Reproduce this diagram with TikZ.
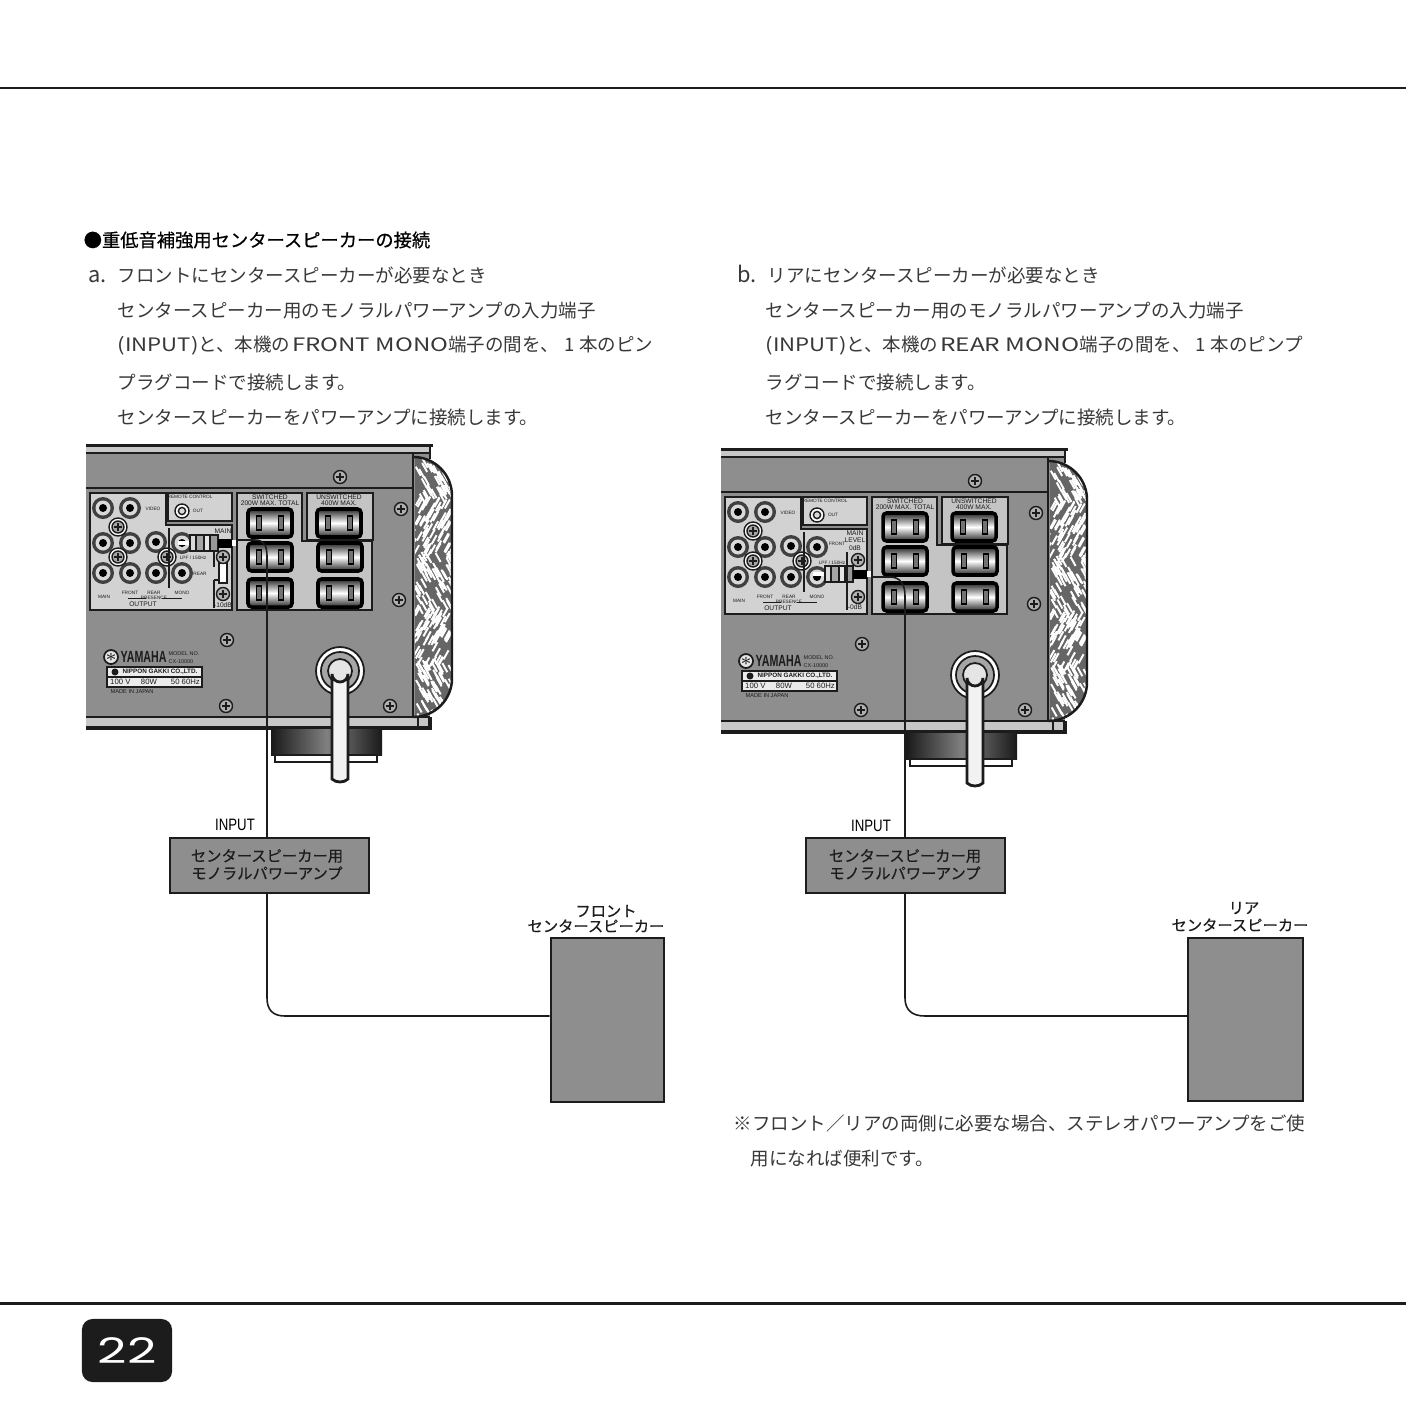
\documentclass[tikz,border=0pt]{standalone}
\usepackage{amsmath,amssymb}
\usepackage{fontspec}
\usepackage{xcolor}
\usetikzlibrary{shapes,arrows.meta,positioning,calc}
\setmainfont{Liberation Sans}
\newfontfamily\jpfont{Noto Sans CJK JP}
\newfontfamily\jpmedium{Noto Sans CJK JP}[FakeBold=0.5]
\newfontfamily\wideface{Poppins}
\definecolor{panelgray}{HTML}{8E8E8E}
\definecolor{jackgray}{HTML}{D2D2D2}
\definecolor{plugblock}{HTML}{C4C4C4}
\definecolor{inkdark}{HTML}{1C1C1C}
\tikzset{
  lead/.style={anchor=west,inner sep=0pt,text=black!78,font=\jpfont\fontsize{5.26}{6}\selectfont},
  headline/.style={anchor=west,inner sep=0pt,text=black,font=\jpmedium\fontsize{5.2}{6}\selectfont},
  unitbox/.style={draw=inkdark,line width=0.7pt,fill=panelgray,inner sep=0pt},
  unittext/.style={inner sep=0pt,text=inkdark,font=\jpmedium\fontsize{4.35}{5}\selectfont},
  blacklabel/.style={inner sep=0pt,text=black,font=\fontsize{4.7}{5}\selectfont},
  tiny/.style={inner sep=0pt,text=inkdark,font=\fontsize{1.35}{1.6}\selectfont},
  small/.style={inner sep=0pt,text=inkdark,font=\fontsize{1.9}{2.2}\selectfont},
  wire/.style={draw=inkdark,line width=0.45pt},
  rule/.style={draw=inkdark,line width=0.7pt},
  pics/jack/.style={code={
    \fill[black!75] (0,0) circle (11);
    \fill[white!85!black] (0,0) circle (7.5);
    \fill[black] (0,0) circle (4);
  }},
  pics/screw/.style={code={
    \draw[inkdark,line width=0.4pt,fill=panelgray!70] (0,0) circle (6.5);
    \draw[inkdark,line width=0.5pt] (-4,0) -- (4,0) (0,-4) -- (0,4);
  }},
  pics/ringscrew/.style={code={
    \draw[inkdark,line width=0.4pt,fill=white] (0,0) circle (9);
    \draw[inkdark,line width=0.4pt,fill=black!35] (0,0) circle (6);
    \draw[inkdark,line width=0.5pt] (-4,0) -- (4,0) (0,-4) -- (0,4);
  }},
  pics/outlet/.style={code={
    \draw[black,line width=1pt,rounded corners=1pt,top color=black!85,bottom color=black!85,middle color=white] (-22,-14) rectangle (22,14);
    \foreach \sx in {-11,11} {
      \draw[black,line width=0.4pt,fill=black!55] (\sx-2.5,-7) rectangle (\sx+2.5,7);
    }
  }},
}
% the amplifier rear panel, drawn at the position of reference a
\newcommand{\rearpanel}{
  \fill[panelgray] (86,447) rectangle (430,728);
  \fill[black!22] (86,447) rectangle (430,453);
  \draw[line width=0.8pt,inkdark] (86,445.5) -- (433,445.5);
  \draw[line width=0.55pt,inkdark] (86,453) -- (430,453);
  \draw[rule] (86,488) -- (413,488) (413,453) -- (413,717);
  \draw[line width=0.55pt,inkdark] (86,717) -- (430,717);
  \fill[black!22] (86,718) rectangle (430,727);
  \draw[line width=1pt,inkdark] (86,728) -- (430,728) -- (430,717);
  \draw[rule] (430,446) -- (430,459);
  \draw[rule] (418,717) -- (418,728);
  % wood side
  \begin{scope}
    \clip (415,457) [rounded corners=11pt] -- (452,457) -- (452,717) [sharp corners] -- (415,717) -- cycle;
    \fill[black!60] (410,450) rectangle (455,720);
    \pgfmathsetseed{4217}
    \foreach \i in {1,...,300} {
      \pgfmathsetmacro{\wx}{415+37*rnd}
      \pgfmathsetmacro{\wy}{457+260*rnd}
      \pgfmathsetmacro{\wd}{mod(floor(\wy/55),2)==0 ? 5 : -5}
      \draw[white,line width=0.55pt] (\wx,\wy) -- ++(\wd,9);
    }
  \end{scope}
  \draw[inkdark,line width=0.7pt] (415,457) [rounded corners=11pt] -- (452,457) -- (452,717) [sharp corners] -- (415,717);
  % jack field
  \draw[rule,fill=jackgray] (90,493) -- (166,493) -- (166,525) -- (232,525) -- (232,610) -- (90,610) -- cycle;
  \draw[rule,fill=jackgray] (168,493) rectangle (232,521);
  \foreach \jx/\jy in {103/508,130/508,103/543,130/543,156/542,182/543,103/573,130/573,156/573,182/573} {
    \pic at (\jx,\jy) {jack};
  }
  \foreach \sx/\sy in {118/527,118/557,167/557} {
    \pic at (\sx,\sy) {ringscrew};
  }
  \draw[rule] (169,528) -- (169,588);
  \draw[inkdark,line width=0.4pt,fill=white] (182,511) circle (7);
  \draw[inkdark,line width=0.4pt,fill=black!15] (182,511) circle (3.6);
  \node[tiny] (remotetext) at (190,497) {REMOTE CONTROL};
  \node[tiny] (outtext) at (198,511) {OUT};
  \node[tiny] (videotext) at (153,509) {VIDEO};
  \node[tiny] (maintext) at (104,597) {MAIN};
  \node[tiny] (fronttext) at (130,593) {FRONT};
  \node[tiny] (reartext) at (154,593) {REAR};
  \node[tiny] (monotext) at (182,593) {MONO};
  \node[tiny] (presencetext) at (154,598) {PRESENCE};
  \draw[inkdark,line width=0.25pt] (128,598) -- (146,598) (162,598) -- (182,598);
  \node[small] (outputtext) at (143,604) {OUTPUT};
  % outlet field
  \draw[rule,fill=plugblock] (237,493) -- (302,493) -- (302,541) -- (372,541) -- (372,610) -- (237,610) -- cycle;
  \draw[rule,fill=plugblock] (307,493) rectangle (373,540);
  \node[small] (switchedtext) at (270,497) {SWITCHED};
  \node[small] (wattsa) at (270,503.5) {200W MAX. TOTAL};
  \node[small] (unswitchedtext) at (339,497) {UNSWITCHED};
  \node[small] (wattsb) at (339,503.5) {400W MAX.};
  \foreach \ox/\oy in {270/523,339/523,270/557,340/557,270/593,340/593} {
    \pic at (\ox,\oy) {outlet};
  }
  % screws
  \foreach \sx/\sy in {340/477,401/509,399/600,227/640,226/706,390/706} {
    \pic at (\sx,\sy) {screw};
  }
  % nameplate
  \draw[inkdark,line width=0.5pt,fill=jackgray!60] (111,657) circle (7);
  \node[inkdark,inner sep=0pt,font=\fontsize{3}{3}\selectfont] (logostar) at (111,657) {$\ast$};
  \node[inner sep=0pt,text=inkdark,anchor=west,font=\bfseries\fontsize{4.6}{5}\selectfont] (logotext) at (120,657) {\scalebox{0.66}[1]{YAMAHA}};
  \node[small,anchor=west,font=\fontsize{1.55}{1.8}\selectfont] (modeltext) at (168,654) {MODEL NO.};
  \node[small,anchor=west,font=\fontsize{1.55}{1.8}\selectfont] (modelnum) at (168,662) {CX-10000};
  \draw[inkdark,line width=0.5pt,fill=jackgray!45] (107,667) rectangle (202,687);
  \draw[inkdark,line width=0.4pt] (107,677) -- (202,677);
  \fill[inkdark] (115,672) circle (3.5);
  \node[inner sep=0pt,text=inkdark,font=\bfseries\fontsize{1.8}{2}\selectfont] (makertext) at (160,672) {NIPPON GAKKI CO.,LTD.};
  \node[inner sep=0pt,text=inkdark,font=\fontsize{2.2}{2.4}\selectfont] (ratingtext) at (155,682) {100 V\hspace{3pt}80W\hspace{4pt}50 60Hz};
  \node[tiny,anchor=west,font=\fontsize{1.6}{2}\selectfont] (madetext) at (110,692) {MADE IN JAPAN};
  % foot and power cord
  \fill[left color=black!90,right color=black!90,middle color=black!50] (271,729) rectangle (382,755);
  \draw[inkdark,line width=0.7pt,fill=white] (275,755) rectangle (377,762);
  \draw[inkdark,line width=0.5pt,fill=white] (340,671) circle (24);
  \draw[inkdark,line width=0.5pt,fill=black!35] (340,671) circle (19);
  \draw[inkdark,line width=0.5pt,fill=black!10] (340,671) circle (12);
  \draw[inkdark,line width=0.8pt,fill=white!95!black] (332,779) -- (332,674) arc (180:0:8) -- (348,779) .. controls (344,783) and (336,783) .. (332,779) -- cycle;
}
% pin plug lying on a jack, the jack centre being the first argument
\newcommand{\pinplug}[1]{
  \begin{scope}[shift={(#1)}]
    \draw[white,line width=1.4pt] (-4,0) -- (8,0);
    \draw[inkdark,line width=0.4pt,fill=black!15] (8,-8) rectangle (14,8);
    \draw[inkdark,line width=0.4pt,fill=black!35] (14,-8) rectangle (22,8);
    \draw[inkdark,line width=0.4pt,fill=black!10] (22,-8) rectangle (28,8);
    \draw[inkdark,line width=0.4pt,fill=black!40] (28,-8) rectangle (36,8);
    \fill[black] (36,-4) rectangle (50,5);
    \fill[white] (50,-3) rectangle (54,3);
  \end{scope}
}

\begin{document}
\begin{tikzpicture}[x=0.01cm,y=-0.01cm]
\useasboundingbox (0,0) rectangle (1406,1406);
\fill[white] (0,0) rectangle (1406,1406);
% page rules
\draw[inkdark,line width=0.85pt] (0,88) -- (1406,88);
\draw[inkdark,line width=0.85pt] (0,1303) -- (1406,1303);
\node[fill=inkdark,rounded corners=3pt,minimum width=0.9cm,minimum height=0.63cm,inner sep=0pt,text=white,font=\wideface\fontsize{10}{10}\selectfont] (pagebox) at (127,1350.5) {\scalebox{1.45}[1]{22}};
% text
\node[headline] (headtext) at (83,240) {●重低音補強用センタースピーカーの接続};
\node[lead] (aone) at (88,275) {\fontsize{6.2}{6}\selectfont a.\hspace{3pt}\fontsize{5.26}{6}\selectfont フロントにセンタースピーカーが必要なとき};
\node[lead] (atwo) at (117,311) {センタースピーカー用のモノラルパワーアンプの入力端子};
\node[lead] (athree) at (117,346) {\scalebox{1.2}[1]{(INPUT)}と、本機の\hspace{0.5pt}\scalebox{1.3}[1]{FRONT MONO}端子の間を、\makebox[5.7pt]{1}本のピン};
\node[lead] (afour) at (117,382) {プラグコードで接続します。};
\node[lead] (afive) at (117,417) {センタースピーカーをパワーアンプに接続します。};
\node[lead] (bone) at (737,275) {\fontsize{6.2}{6}\selectfont b.\hspace{3pt}\fontsize{5.26}{6}\selectfont リアにセンタースピーカーが必要なとき};
\node[lead] (btwo) at (765,311) {センタースピーカー用のモノラルパワーアンプの入力端子};
\node[lead] (bthree) at (765,346) {\scalebox{1.2}[1]{(INPUT)}と、本機の\hspace{0.5pt}\scalebox{1.32}[1]{REAR MONO}端子の間を、\makebox[5.7pt]{1}本のピンプ};
\node[lead] (bfour) at (765,382) {ラグコードで接続します。};
\node[lead] (bfive) at (765,417) {センタースピーカーをパワーアンプに接続します。};
\node[lead] (noteone) at (733,1123) {※フロント／リアの両側に必要な場合、ステレオパワーアンプをご使};
\node[lead] (notetwo) at (750,1159) {用になれば便利です。};
% panel a
\rearpanel
\pinplug{182,543}
\node[small] (mainmark) at (223,531) {MAIN};
\node[tiny] (lpfa) at (193,558) {LPF / 150Hz};
\node[tiny] (reara) at (200,574) {REAR};
\node[small] (dba) at (223,605) {-10dB};
\draw[rule] (214,550) -- (214,567) (214,580) -- (214,608) (214,580) -- (223,580);
\draw[inkdark,line width=0.5pt,fill=white] (219,563) rectangle (227,583);
\pic at (223,557) {screw};
\pic at (223,594) {screw};
\coordinate (plugend) at (236,540);
\node[unitbox,minimum width=1.99cm,minimum height=0.55cm] (ampa) at (269.5,865.5) {};
\node[unittext] (ampaone) at (267,856) {センタースピーカー用};
\node[unittext] (ampatwo) at (267,873) {モノラルパワーアンプ};
\node[blacklabel] (inputa) at (235,825) {\scalebox{0.8}[1]{INPUT}};
\node[unitbox,minimum width=1.13cm,minimum height=1.64cm] (spka) at (607.5,1020) {};
\node[unittext] (spkaone) at (606,911) {フロント};
\node[unittext] (spkatwo) at (596,926) {センタースピーカー};
\draw[wire] (plugend) -- (255,540) .. controls (264,540) and (267,546) .. (267,556) -- (267,838);
\draw[wire] (267,893) -- (267,998) .. controls (267,1010) and (273,1016) .. (285,1016) -- (spka.west |- 285,1016);
% panel b
\begin{scope}[shift={(635,4)}]
  \rearpanel
  \pinplug{182,570}
  \node[small] (mainmarkb) at (220,529) {MAIN};
  \node[small] (levelb) at (220,536.5) {LEVEL};
  \node[small] (zerob) at (220,544) {0dB};
  \node[tiny] (frontb) at (202,540) {FRONT};
  \node[tiny] (lpfb) at (197,559) {LPF / 150Hz};
  \node[small] (dbb) at (220,603) {-0dB};
  \draw[rule] (212,548) -- (212,606);
  \pic at (223,556) {screw};
  \pic at (223,593) {screw};
  \coordinate (plugendb) at (236,573);
\end{scope}
\node[unitbox,minimum width=1.99cm,minimum height=0.55cm] (ampb) at (905.5,865.5) {};
\node[unittext] (ampbone) at (905,856) {センタースピーカー用};
\node[unittext] (ampbtwo) at (905,873) {モノラルパワーアンプ};
\node[blacklabel] (inputb) at (871,826) {\scalebox{0.8}[1]{INPUT}};
\node[unitbox,minimum width=1.15cm,minimum height=1.63cm] (spkb) at (1245.5,1019.5) {};
\node[unittext] (spkbone) at (1244,908) {リア};
\node[unittext] (spkbtwo) at (1240,925) {センタースピーカー};
\draw[wire] (plugendb) -- (890,577) .. controls (900,577) and (905,584) .. (905,596) -- (905,838);
\draw[wire] (905,893) -- (905,998) .. controls (905,1010) and (912,1016) .. (925,1016) -- (spkb.west |- 925,1016);
\end{tikzpicture}
\end{document}
